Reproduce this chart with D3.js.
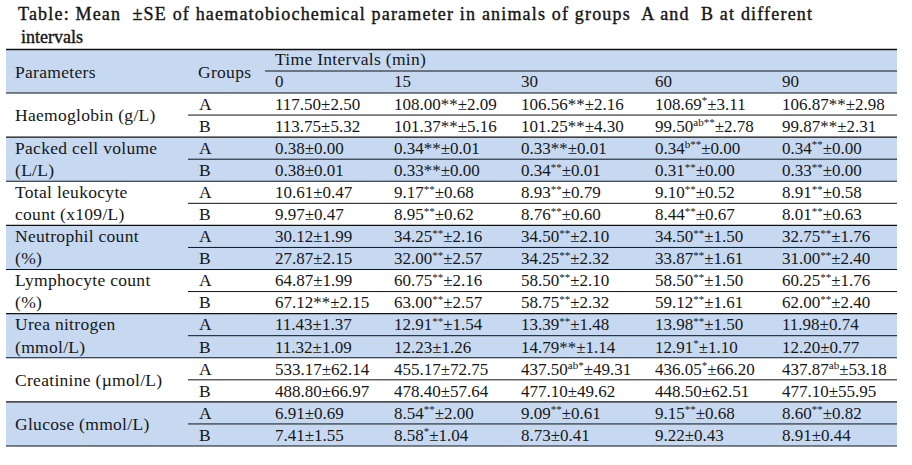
<!DOCTYPE html>
<html>
<head>
<meta charset="utf-8">
<style>
  body { margin: 0; background: #fff; }
  text {
    font-family: "Liberation Serif", "Times New Roman", serif;
    fill: #161616;
  }
  .label { font-size: 17.5px; letter-spacing: 0.3px; }
  .cell { font-size: 17px; }
  .title { font-size: 18px; white-space: pre; stroke: #161616; stroke-width: 0.4px; }
</style>
</head>
<body>
<div id="chart-area"></div>

<script src="https://cdn.jsdelivr.net/npm/d3@7"></script>

<script>
    // {..} marks a superscript part of a cell
    const timeIntervals = ["0", "15", "30", "60", "90"];
    const groups = ["A", "B"];
    const parameters = [
        ["Haemoglobin (g/L)"],
        ["Packed cell volume", "(L/L)"],
        ["Total leukocyte", "count (x109/L)"],
        ["Neutrophil count", "(%)"],
        ["Lymphocyte count", "(%)"],
        ["Urea nitrogen", "(mmol/L)"],
        ["Creatinine (\u00b5mol/L)"],
        ["Glucose (mmol/L)"]
    ];

    const haemoglobin = [
        ["117.50±2.50", "108.00**±2.09", "106.56**±2.16", "108.69{*}±3.11", "106.87**±2.98"],
        ["113.75±5.32", "101.37**±5.16", "101.25**±4.30", "99.50{ab**}±2.78", "99.87**±2.31"]
    ];
    const packedCellVolume = [
        ["0.38±0.00", "0.34**±0.01", "0.33**±0.01", "0.34{b**}±0.00", "0.34{**}±0.00"],
        ["0.38±0.01", "0.33**±0.00", "0.34{**}±0.01", "0.31{**}±0.00", "0.33{**}±0.00"]
    ];
    const totalLeukocyte = [
        ["10.61±0.47", "9.17{**}±0.68", "8.93{**}±0.79", "9.10{**}±0.52", "8.91{**}±0.58"],
        ["9.97±0.47", "8.95{**}±0.62", "8.76{**}±0.60", "8.44{**}±0.67", "8.01{**}±0.63"]
    ];
    const neutrophil = [
        ["30.12±1.99", "34.25{**}±2.16", "34.50{**}±2.10", "34.50{**}±1.50", "32.75{**}±1.76"],
        ["27.87±2.15", "32.00{**}±2.57", "34.25{**}±2.32", "33.87{**}±1.61", "31.00{**}±2.40"]
    ];
    const lymphocyte = [
        ["64.87±1.99", "60.75{**}±2.16", "58.50{**}±2.10", "58.50{**}±1.50", "60.25{**}±1.76"],
        ["67.12**±2.15", "63.00{**}±2.57", "58.75{**}±2.32", "59.12{**}±1.61", "62.00{**}±2.40"]
    ];
    const ureaNitrogen = [
        ["11.43±1.37", "12.91{**}±1.54", "13.39{**}±1.48", "13.98{**}±1.50", "11.98±0.74"],
        ["11.32±1.09", "12.23±1.26", "14.79**±1.14", "12.91{*}±1.10", "12.20±0.77"]
    ];
    const creatinine = [
        ["533.17±62.14", "455.17±72.75", "437.50{ab*}±49.31", "436.05{*}±66.20", "437.87{ab}±53.18"],
        ["488.80±66.97", "478.40±57.64", "477.10±49.62", "448.50±62.51", "477.10±55.95"]
    ];
    const glucose = [
        ["6.91±0.69", "8.54{**}±2.00", "9.09{**}±0.61", "9.15{**}±0.68", "8.60{**}±0.82"],
        ["7.41±1.55", "8.58{*}±1.04", "8.73±0.41", "9.22±0.43", "8.91±0.44"]
    ];

    const blocks = [haemoglobin, packedCellVolume, totalLeukocyte, neutrophil,
                    lymphocyte, ureaNitrogen, creatinine, glucose];

    const width = 912;
    const height = 465;
    const left = 6, right = 897;
    const headTop = 49.5, headMid = 71, headBottom = 93, tableBottom = 446;
    const groupX = 188, timeX = 265;
    const blue = "#c6d9f1";

    // one entry per table row
    const rows = [];
    blocks.forEach((b, i) => b.forEach((vals, g) => rows.push({ block: i, group: groups[g], vals })));

    const svg = d3.select("#chart-area")
        .append("svg")
            .attr("width", width)
            .attr("height", height);

    const y = d3.scaleBand()
        .domain(d3.range(rows.length))
        .range([headBottom, tableBottom]);

    const x = d3.scaleOrdinal()
        .domain(timeIntervals)
        .range([275, 394, 521, 655, 782]);

    // backgrounds
    svg.append("rect")
        .attr("x", left).attr("y", headTop)
        .attr("width", right - left).attr("height", headBottom - headTop)
        .attr("fill", blue);

    svg.selectAll("rect.block")
        .data(parameters)
        .join("rect")
            .attr("class", "block")
            .attr("x", left)
            .attr("y", (d, i) => y(2 * i))
            .attr("width", right - left)
            .attr("height", y.bandwidth() * 2)
            .attr("fill", (d, i) => i % 2 ? blue : "#fff");

    // title
    svg.append("text")
        .attr("class", "title")
        .attr("x", 18).attr("y", 20)
        .attr("textLength", 794)
        .attr("lengthAdjust", "spacing")
        .text("Table: Mean  ±SE of haematobiochemical parameter in animals of groups  A and  B at different");
    svg.append("text")
        .attr("class", "title")
        .attr("x", 21).attr("y", 43)
        .text("intervals");

    // header
    svg.append("text").attr("class", "label").attr("x", 15).attr("y", 78).text("Parameters");
    svg.append("text").attr("class", "label").attr("x", 198).attr("y", 78).text("Groups");
    svg.append("text").attr("class", "label").attr("x", x("0")).attr("y", 65).text("Time Intervals (min)");
    svg.selectAll("text.time")
        .data(timeIntervals)
        .join("text")
            .attr("class", "cell time")
            .attr("x", d => x(d))
            .attr("y", 87)
            .text(d => d);

    // parameter labels
    const lab = svg.selectAll("text.param")
        .data(parameters)
        .join("text")
            .attr("class", "label param")
            .attr("x", 15);
    lab.each(function(d, i) {
        const t = d3.select(this);
        if (d.length === 1) {
            t.attr("y", y(2 * i) + y.bandwidth() + 5.8).text(d[0]);
        } else {
            d.forEach((line, k) => t.append("tspan")
                .attr("x", 15)
                .attr("y", y(2 * i + k) + y.bandwidth() / 2 + 5.8)
                .text(line));
        }
    });

    // group letters
    svg.selectAll("text.group")
        .data(rows)
        .join("text")
            .attr("class", "label group")
            .attr("x", 199)
            .attr("y", (d, i) => y(i) + y.bandwidth() / 2 + 5.8)
            .text(d => d.group);

    // value cells
    const cells = [];
    rows.forEach((r, i) => r.vals.forEach((v, j) => cells.push({ row: i, col: timeIntervals[j], v })));

    svg.selectAll("text.val")
        .data(cells)
        .join("text")
            .attr("class", "cell val")
            .attr("x", d => x(d.col))
            .attr("y", d => y(d.row) + y.bandwidth() / 2 + 5.8)
            .each(function(d) {
                const m = d.v.match(/^([^{]*)(?:\{([^}]*)\})?(.*)$/);
                const t = d3.select(this);
                t.append("tspan").text(m[1]);
                if (m[2]) {
                    t.append("tspan")
                        .attr("font-size", "11px")
                        .attr("dy", -5.5)
                        .text(m[2]);
                    t.append("tspan").attr("dy", 5.5).text(m[3]);
                } else {
                    t.append("tspan").text(m[3]);
                }
            });

    // rules
    const rules = [
        { x1: left, x2: right, y: headTop, w: 1.4 },
        { x1: timeX, x2: right, y: headMid, w: 1 },
        { x1: left, x2: right, y: headBottom, w: 1.2 }
    ];
    parameters.forEach((p, i) => {
        rules.push({ x1: groupX, x2: right, y: y(2 * i + 1), w: 1 });
        rules.push({ x1: left, x2: right, y: y(2 * i + 1) + y.bandwidth(), w: 1.2 });
    });

    svg.selectAll("line.rule")
        .data(rules)
        .join("line")
            .attr("class", "rule")
            .attr("x1", d => d.x1)
            .attr("x2", d => d.x2)
            .attr("y1", d => d.y)
            .attr("y2", d => d.y)
            .attr("stroke", "#111")
            .attr("stroke-width", d => d.w);
</script>
</body>
</html>
